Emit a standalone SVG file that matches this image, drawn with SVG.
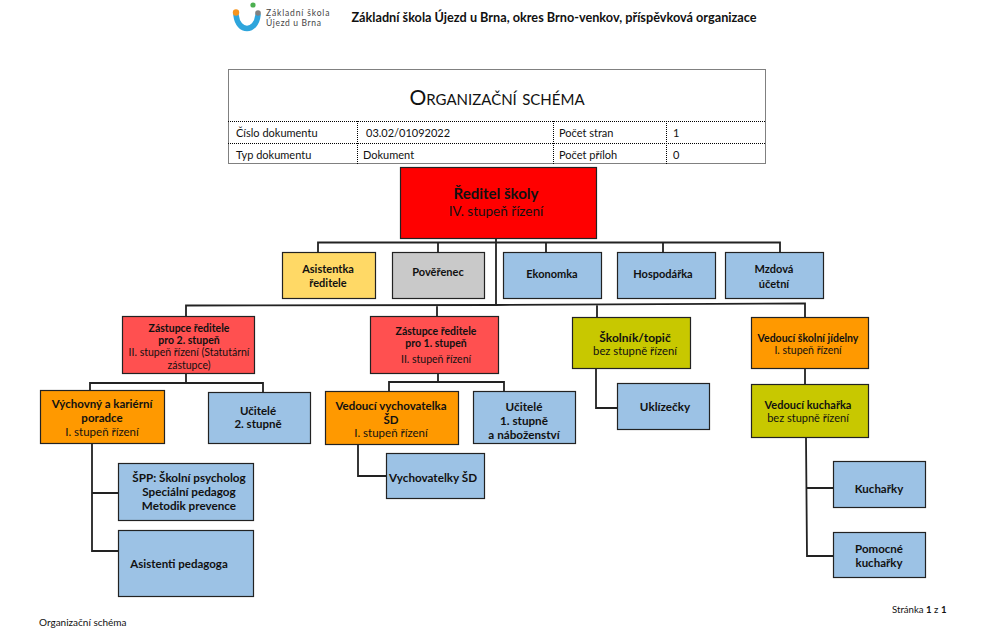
<svg xmlns="http://www.w3.org/2000/svg" width="982" height="642" viewBox="0 0 982 642">
<style>
text{font-family:Lato,"Liberation Sans",sans-serif;fill:#111;text-anchor:middle}
.b{font-weight:700}
.s{font-size:10.5px}
.m{font-size:11px}
.n{font-size:11.500px}
.w{font-size:11.700px}
.l{text-anchor:start}
.box{stroke:#222;stroke-width:1.200}
.dot{fill:none;stroke:#000;stroke-width:1;stroke-dasharray:1 1}
.red{fill:#ff0000}.zas{fill:#ff5050}.yel{fill:#ffd966}.gry{fill:#c9c9c9}.blu{fill:#9cc2e5}.org{fill:#ff9900}.olv{fill:#c8c800}
#connectors path{fill:none;stroke:#222;stroke-width:1.800}
</style>
<rect width="982" height="642" fill="#fff"/>
<g id="logo">
<path d="M236 15C238 33 256 33 258 15" fill="none" stroke="#2ea5dc" stroke-width="5.500" stroke-linecap="round"/>
<circle cx="236" cy="12.500" r="3.200" fill="#f7941d"/>
<circle cx="253" cy="5" r="2.600" fill="#4caf50"/>
<circle cx="258" cy="13" r="2.800" fill="#808080"/>
<text class="l" x="266" y="16" style="font-size:8.500px;letter-spacing:.85px;fill:#444">Základní škola</text>
<text class="l" x="266" y="26" style="font-size:8.500px;letter-spacing:.65px;fill:#444">Újezd u Brna</text>
</g>
<text class="b" x="554" y="22" style="font-size:12.700px">Základní škola Újezd u Brna, okres Brno-venkov, příspěvková organizace</text>
<g id="table">
<rect class="dot" x="228.500" y="69.500" width="537" height="94"/>
<path class="dot" d="M228 121.500H766M228 143.500H766M357.500 121V164M553.500 121V164M666.500 121V164"/>
<text x="497" y="105" style="font-size:21px;font-variant:small-caps">Organizační schéma</text>
<g style="font-size:11px">
<text class="l" x="236" y="137">Číslo dokumentu</text>
<text class="l" x="366" y="137">03.02/01092022</text>
<text class="l" x="559" y="137">Počet stran</text>
<text class="l" x="673" y="137">1</text>
<text class="l" x="236" y="159">Typ dokumentu</text>
<text class="l" x="363" y="159">Dokument</text>
<text class="l" x="559" y="159">Počet příloh</text>
<text class="l" x="673" y="159">0</text>
</g>
</g>
<g id="connectors">
<path d="M496 238V305M318 252V242.500H780V252M438 242.500V252M546 242.500V252M663 242.500V252"/>
<path d="M186 316V305.500L496 305L805 303.500V318M437 305V317M597 304V318"/>
<path d="M186 374V383M90 391V383H263V393"/>
<path d="M438 374V382M389 392V382H504V392"/>
<path d="M358 445V476H386"/>
<path d="M596 369V408H617"/>
<path d="M805 369V385"/>
<path d="M806 438L807 556H833M807 488H833"/>
<path d="M92 444V551H118M92 493H118"/>
</g>
<g id="reditel"><rect class="box red" x="400.500" y="167.500" width="196" height="71"/>
<text class="b" x="496" y="199" font-size="15">Ředitel školy</text><text x="496" y="216" font-size="13.500">IV. stupeň řízení</text></g>
<g id="asistentka"><rect class="box yel" x="282.500" y="252.500" width="93" height="46"/>
<text class="b m" x="328" y="273">Asistentka</text><text class="b m" x="328" y="287">ředitele</text></g>
<g id="poverenec"><rect class="box gry" x="392.500" y="252.500" width="92" height="46"/>
<text class="b m" x="438" y="276">Pověřenec</text></g>
<g id="ekonomka"><rect class="box blu" x="503.500" y="252.500" width="98" height="46"/>
<text class="b m" x="552" y="278">Ekonomka</text></g>
<g id="hospodarka"><rect class="box blu" x="617.500" y="252.500" width="98" height="46"/>
<text class="b m" x="663" y="278">Hospodářka</text></g>
<g id="mzdova"><rect class="box blu" x="725.500" y="252.500" width="98" height="46"/>
<text class="b m" x="774" y="273">Mzdová</text><text class="b m" x="774" y="288">účetní</text></g>
<g id="zastupce2"><rect class="box zas" x="122.500" y="316.500" width="132" height="57"/>
<text class="b s" x="189" y="332">Zástupce ředitele</text><text class="b s" x="189" y="344">pro 2. stupeň</text>
<text class="s" x="189" y="356">II. stupeň řízení (Statutární</text><text class="s" x="189" y="369">zástupce)</text></g>
<g id="zastupce1"><rect class="box zas" x="370.500" y="316.500" width="128" height="57"/>
<text class="b s" x="436" y="335">Zástupce ředitele</text><text class="b s" x="436" y="347">pro 1. stupeň</text>
<text class="s" x="436" y="363">II. stupeň řízení</text></g>
<g id="skolnik"><rect class="box olv" x="572.500" y="317.500" width="118" height="51"/>
<text class="b" x="635" y="342" font-size="12">Školník/topič</text><text x="635" y="355" font-size="11.300">bez stupně řízení</text></g>
<g id="jidelna"><rect class="box org" x="751.500" y="317.500" width="117" height="51"/>
<text class="b s" x="808" y="342">Vedoucí školní jídelny</text><text class="s" x="808" y="354">I. stupeň řízení</text></g>
<g id="vychovny"><rect class="box org" x="40.500" y="390.500" width="124" height="53"/>
<text class="b n" x="102" y="408">Výchovný a kariérní</text><text class="b n" x="102" y="422">poradce</text><text class="n" x="102" y="435.500">I. stupeň řízení</text></g>
<g id="ucitele2"><rect class="box blu" x="208.500" y="392.500" width="102" height="51"/>
<text class="b n" x="258" y="414.500">Učitelé</text><text class="b n" x="258" y="428">2. stupně</text></g>
<g id="vedouci-vych"><rect class="box org" x="325.500" y="391.500" width="133" height="53"/>
<text class="b n" x="391" y="410">Vedoucí vychovatelka</text><text class="b n" x="391" y="423.500">ŠD</text><text class="n" x="391" y="437">I. stupeň řízení</text></g>
<g id="ucitele1"><rect class="box blu" x="473.500" y="391.500" width="102" height="52"/>
<text class="b w" x="524" y="411">Učitelé</text><text class="b w" x="524" y="425">1. stupně</text><text class="b w" x="524" y="439">a náboženství</text></g>
<g id="vychovatelky"><rect class="box blu" x="386.500" y="453.500" width="98" height="45"/>
<text class="b w" x="433" y="482">Vychovatelky ŠD</text></g>
<g id="uklizecky"><rect class="box blu" x="617.500" y="383.500" width="92" height="46"/>
<text class="b w" x="665" y="411">Uklízečky</text></g>
<g id="kucharka"><rect class="box olv" x="751.500" y="384.500" width="117" height="53"/>
<text class="b m" x="808" y="409">Vedoucí kuchařka</text><text class="m" x="808" y="422">bez stupně řízení</text></g>
<g id="spp"><rect class="box blu" x="118.500" y="463.500" width="135" height="57"/>
<text class="b w" x="189" y="482">ŠPP: Školní psycholog</text><text class="b w" x="189" y="496">Speciální pedagog</text><text class="b w" x="189" y="510">Metodik prevence</text></g>
<g id="asistenti"><rect class="box blu" x="118.500" y="530.500" width="135" height="66"/>
<text class="b n" x="179" y="568">Asistenti pedagoga</text></g>
<g id="kuchari"><rect class="box blu" x="833.500" y="461.500" width="92" height="46"/>
<text class="b n" x="879" y="493">Kuchařky</text></g>
<g id="pomocne"><rect class="box blu" x="833.500" y="532.500" width="92" height="45"/>
<text class="b n" x="879" y="553">Pomocné</text><text class="b n" x="879" y="567">kuchařky</text></g>
<text class="l" x="39" y="626" style="font-size:10px">Organizační schéma</text>
<text class="l" x="892" y="613" style="font-size:9.600px">Stránka <tspan class="b">1</tspan> z <tspan class="b">1</tspan></text>
</svg>
